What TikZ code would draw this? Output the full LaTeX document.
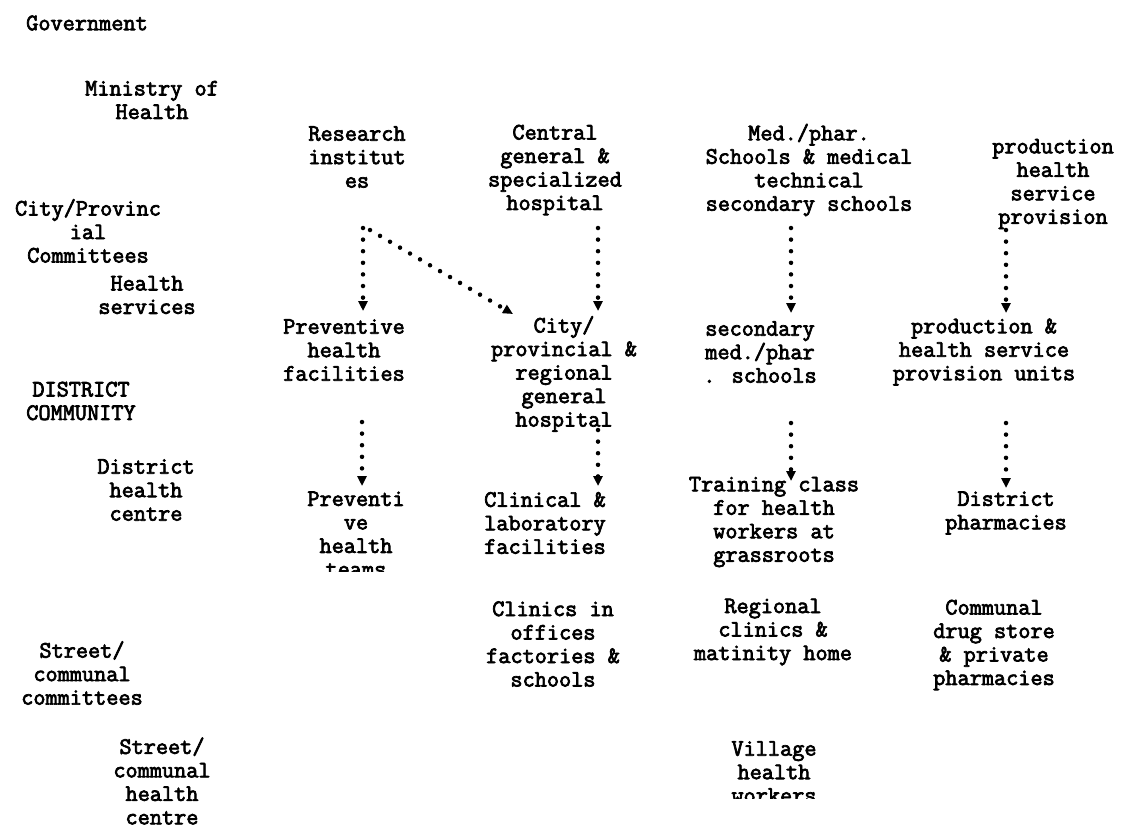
\documentclass[tikz,border=0pt]{standalone}
\usepackage{fontspec}
\newfontfamily\typew{Latin Modern Mono}[FakeBold=3]
\usetikzlibrary{arrows.meta}

\tikzset{
  lbl/.style={align=center, inner sep=0pt,
    font=\typew\fontsize{23.6}{23.5}\selectfont},
  flow/.style={line width=4.5pt, line cap=round,
    dash pattern=on 0pt off 11.6pt,
    -{Triangle[length=10pt,width=9pt]}},
}

\begin{document}
\begin{tikzpicture}[x=1pt, y=-1pt]
  \useasboundingbox (0,0) rectangle (1121,828);

  % levels on the left
  \node (gov) [lbl] at (87,23) {Government};
  \node (moh) [lbl] at (152,100) {Ministry of\\Health};
  \node (cpc) [lbl] at (88,231) {City/Provinc\\ial\\Committees};
  \node (hsv) [lbl] at (147,295) {Health\\services};
  \node (dcm) [lbl] at (81,401) {DISTRICT\\COMMUNITY};
  \node (dhc) [lbl] at (146,490) {District\\health\\centre};
  \node (scc) [lbl] at (82,673) {Street/\\communal\\committees};
  \node (sch) [lbl] at (162,781) {Street/\\communal\\health\\centre};

  % central level
  \node (ri) [lbl] at (357,157) {Research\\institut\\es};
  \node (cgh) [lbl] at (555,170) {Central\\general \&\\specialized\\hospital};
  \node (mps) [lbl] at (809,170) {Med./phar.\\Schools \& medical\\technical\\secondary schools};
  \node (phs) [lbl] at (1053,184) {production\\health\\service\\provision};

  % city / province level
  \node (phf) [lbl] at (344,350) {Preventive\\health\\facilities};
  \node (cprg) [lbl] at (564,374) {City/\\provincial \&\\regional\\general\\hospital};
  \node (smp) [lbl] at (760,352) {secondary\\med./phar\\. schools};
  \node (phsu) [lbl] at (984,352) {production \&\\health service\\provision units};

  % district level
  \begin{scope}
    \clip (280,470) rectangle (440,571);
    \node (pht) [lbl] at (356,534) {Preventi\\ve\\health\\teams};
  \end{scope}
  \node (clf) [lbl] at (545,523) {Clinical \&\\laboratory\\facilities};
  \node (tc) [lbl] at (774,522) {Training class\\for health\\workers at\\grassroots};
  \node (dp) [lbl] at (1006,513) {District\\pharmacies};

  % communal level
  \node (cio) [lbl] at (553,644) {Clinics in\\offices\\factories \&\\schools};
  \node (rc) [lbl] at (773,632) {Regional\\clinics \&\\matinity home};
  \node (cds) [lbl] at (994,645) {Communal\\drug store\\\& private\\pharmacies};
  \begin{scope}
    \clip (690,720) rectangle (860,798);
    \node (vhw) [lbl] at (774,772) {Village\\health\\workers};
  \end{scope}

  \draw[flow] ([shift={(6,71)}]ri.center) -- ([shift={(19,-39)}]phf.center);
  \draw[flow] ([shift={(13,73)}]ri.center) -- ([shift={(-51,-60)}]cprg.center);
  \draw[flow] ([shift={(43,58)}]cgh.center) -- ([shift={(34,-63)}]cprg.center);
  \draw[flow] ([shift={(-18,58)}]mps.center) -- ([shift={(31,-39)}]smp.center);
  \draw[flow] ([shift={(-47,46)}]phs.center) -- ([shift={(22,-39)}]phsu.center);

  \draw[flow] ([shift={(18,72)}]phf.center) -- ([shift={(6,-48)}]pht.center);
  \draw[flow] ([shift={(34,56)}]cprg.center) -- ([shift={(53,-37)}]clf.center);
  \draw[flow] ([shift={(31,71)}]smp.center) -- ([shift={(17,-41)}]tc.center);
  \draw[flow] ([shift={(22,71)}]phsu.center) -- ([shift={(0,-25)}]dp.center);
\end{tikzpicture}
\end{document}
